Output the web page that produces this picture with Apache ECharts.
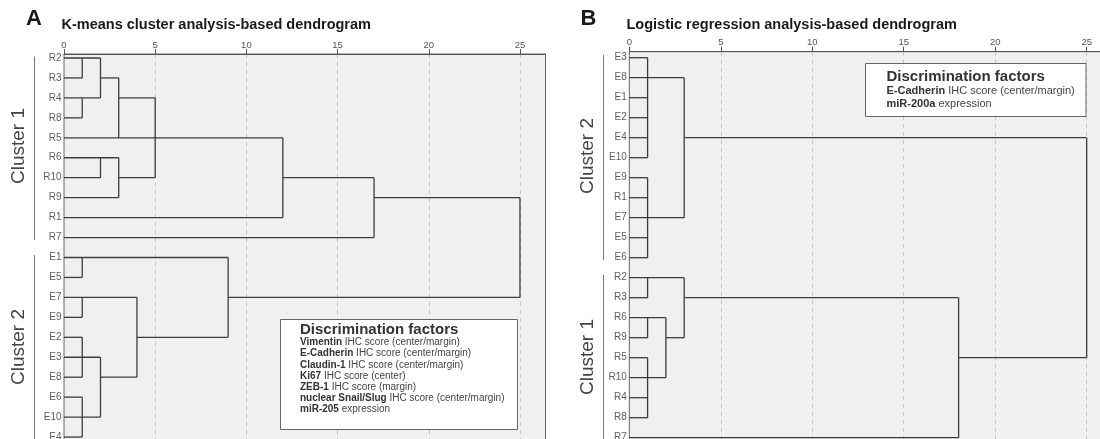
<!DOCTYPE html>
<html>
<head>
<meta charset="utf-8">
<script src="https://cdn.jsdelivr.net/npm/echarts@6/dist/echarts.min.js"></script>
<style>
html,body{margin:0;padding:0;background:#fff;}
#c{width:1100px;height:439px;}
</style>
</head>
<body>
<div id="c"></div>
<script>
// ---------- data ----------
const rowsA = ['R2','R3','R4','R8','R5','R6','R10','R9','R1','R7','E1','E5','E7','E9','E2','E3','E8','E6','E10','E4'];
const rowsB = ['E3','E8','E1','E2','E4','E10','E9','R1','E7','E5','E6','R2','R3','R6','R9','R5','R10','R4','R8','R7'];
// horizontal segments: [row, fromDistance, toDistance]
const horizA = [[0,0,2],[1,0,1],[1,2,3],[2,0,2],[2,3,5],[3,0,1],[4,0,12],[5,0,3],[6,0,2],[6,3,5],[6,12,17],[7,0,3],[7,17,25],[8,0,12],[9,0,17],
  [10,0,9],[11,0,1],[12,0,4],[12,9,25],[13,0,1],[14,0,1],[14,4,9],[15,0,2],[16,0,1],[16,2,4],[17,0,1],[18,0,2],[19,0,1]];
// vertical segments: [distance, fromRow, toRow]
const vertA = [[1,0,1],[1,2,3],[2,0,2],[3,1,4],[2,5,6],[3,5,7],[5,2,6],[12,4,8],[17,6,9],[25,7,12],
  [1,10,11],[1,12,13],[1,14,16],[1,17,19],[2,15,18],[4,12,16],[9,10,14]];
const horizB = [[0,0,1],[1,0,3],[2,0,1],[3,0,1],[4,0,1],[4,3,25],[5,0,1],[6,0,1],[7,0,1],[8,0,3],[9,0,1],[10,0,1],
  [11,0,3],[12,0,1],[12,3,18],[13,0,2],[14,0,1],[14,2,3],[15,0,1],[15,18,25],[16,0,2],[17,0,1],[18,0,1],[19,0,18]];
const vertB = [[1,0,5],[1,6,10],[3,1,8],[25,4,15],[1,11,12],[3,11,14],[1,13,14],[2,13,16],[1,15,18],[18,12,19]];
const factorsA = [['Vimentin',' IHC score (center/margin)'],['E-Cadherin',' IHC score (center/margin)'],['Claudin-1',' IHC score (center/margin)'],
  ['Ki67',' IHC score (center)'],['ZEB-1',' IHC score (margin)'],['nuclear Snail/Slug',' IHC score (center/margin)'],['miR-205',' expression']];
const factorsB = [['E-Cadherin',' IHC score (center/margin)'],['miR-200a',' expression']];
const titleA = 'K-means cluster analysis-based dendrogram';
const titleB = 'Logistic regression analysis-based dendrogram';

// ---------- build ----------
const FONT = "'Liberation Sans', Arial, sans-serif";
function segs(h, v){
  const out = [];
  h.forEach(s => out.push([s[1], s[0], s[2], s[0]]));
  v.forEach(s => out.push([s[0], s[1], s[0], s[2]]));
  return out;
}
function renderSeg(params, api){
  const p1 = api.coord([api.value(0), api.value(1)]);
  const p2 = api.coord([api.value(2), api.value(3)]);
  return {type:'line', shape:{x1:p1[0],y1:p1[1],x2:p2[0],y2:p2[1]}, style:{stroke:'#3c3c3c', lineWidth:1.3}};
}
function xAx(idx){
  return {type:'value', gridIndex:idx, position:'top', min:0, max:26.4, interval:5,
    axisLine:{show:true, onZero:false, lineStyle:{color:'#555', width:1}},
    axisTick:{show:true, length:5, lineStyle:{color:'#555'}},
    axisLabel:{color:'#555', fontSize:9.5, fontFamily:FONT, margin:4, showMaxLabel:false},
    splitLine:{show:true, showMinLine:false, showMaxLine:false, lineStyle:{color:'#c4c4c4', type:[4,4], width:1}}};
}
function yAx(idx, min){
  return {type:'value', gridIndex:idx, inverse:true, min:min, max:20.1,
    axisLine:{show:false}, axisTick:{show:false}, axisLabel:{show:false}, splitLine:{show:false}};
}
function labelSeries(idx, rows){
  return {type:'scatter', xAxisIndex:idx, yAxisIndex:idx, symbolSize:1, itemStyle:{color:'rgba(0,0,0,0)'},
    data: rows.map((n,i)=>[0,i,n]), silent:true, clip:false,
    label:{show:true, position:'left', distance:2, formatter:p=>p.data[2], color:'#333', fontSize:10, fontFamily:FONT}};
}
function legendText(list){
  return list.map(l => '{b|' + l[0] + '}{r|' + l[1] + '}').join('\n');
}
const chart = echarts.init(document.getElementById('c'), null, {renderer:'canvas'});
const option = {
  animation:false,
  backgroundColor:'#fff',
  grid:[
    {left:64, top:54, width:481.5, height:20.3*19.95, show:true, backgroundColor:'#f0f0f0', borderColor:'#666', borderWidth:1, containLabel:false, outerBoundsMode:'none'},
    {left:629.3, top:51.7, width:483, height:20.4*20, show:true, backgroundColor:'#f0f0f0', borderColor:'#666', borderWidth:1, containLabel:false, outerBoundsMode:'none'}
  ],
  xAxis:[xAx(0), xAx(1)],
  yAxis:[yAx(0,-0.2), yAx(1,-0.3)],
  series:[
    {type:'custom', xAxisIndex:0, yAxisIndex:0, renderItem:renderSeg, data:segs(horizA, vertA), encode:{x:[0,2], y:[1,3]}, silent:true},
    {type:'custom', xAxisIndex:1, yAxisIndex:1, renderItem:renderSeg, data:segs(horizB, vertB), encode:{x:[0,2], y:[1,3]}, silent:true},
    labelSeries(0, rowsA),
    labelSeries(1, rowsB)
  ],
  graphic:[
    {type:'text', x:26, y:19, z:100, style:{text:'A', font:'bold 22px '+FONT, fill:'#1a1a1a', verticalAlign:'middle'}},
    {type:'text', x:61.5, y:25, z:100, style:{text:titleA, font:'bold 14.5px '+FONT, fill:'#1a1a1a', verticalAlign:'middle'}},
    {type:'text', x:580.5, y:19, z:100, style:{text:'B', font:'bold 22px '+FONT, fill:'#1a1a1a', verticalAlign:'middle'}},
    {type:'text', x:626.5, y:25, z:100, style:{text:titleB, font:'bold 14.5px '+FONT, fill:'#1a1a1a', verticalAlign:'middle'}},
    // cluster brackets and labels
    {type:'line', z:100, shape:{x1:34.5,y1:56.5,x2:34.5,y2:240}, style:{stroke:'#777', lineWidth:1}},
    {type:'line', z:100, shape:{x1:34.5,y1:255,x2:34.5,y2:460}, style:{stroke:'#777', lineWidth:1}},
    {type:'line', z:100, shape:{x1:603.5,y1:55,x2:603.5,y2:260}, style:{stroke:'#777', lineWidth:1}},
    {type:'line', z:100, shape:{x1:603.5,y1:275,x2:603.5,y2:460}, style:{stroke:'#777', lineWidth:1}},
    {type:'text', x:19, y:146, rotation:Math.PI/2, z:100, style:{text:'Cluster 1', font:'19px '+FONT, fill:'#444', align:'center', verticalAlign:'middle'}},
    {type:'text', x:19, y:347, rotation:Math.PI/2, z:100, style:{text:'Cluster 2', font:'19px '+FONT, fill:'#444', align:'center', verticalAlign:'middle'}},
    {type:'text', x:588, y:156, rotation:Math.PI/2, z:100, style:{text:'Cluster 2', font:'19px '+FONT, fill:'#444', align:'center', verticalAlign:'middle'}},
    {type:'text', x:588, y:357, rotation:Math.PI/2, z:100, style:{text:'Cluster 1', font:'19px '+FONT, fill:'#444', align:'center', verticalAlign:'middle'}},
    // legend A
    {type:'rect', z:100, shape:{x:280.5,y:319.5,width:237,height:110}, style:{fill:'#fff', stroke:'#666', lineWidth:1}},
    {type:'text', x:300, y:329.5, z:101, style:{text:'Discrimination factors', font:'bold 15px '+FONT, fill:'#333', verticalAlign:'middle'}},
    {type:'text', x:300, y:337, z:101, style:{text:legendText(factorsA), verticalAlign:'top', fill:'#333',
      rich:{b:{fontWeight:'bold', fontSize:10, fontFamily:FONT, fill:'#333', lineHeight:11.1}, r:{fontSize:10, fontFamily:FONT, fill:'#444', lineHeight:11.1}}}},
    // legend B
    {type:'rect', z:100, shape:{x:865.5,y:63.5,width:220.5,height:53}, style:{fill:'#fff', stroke:'#666', lineWidth:1}},
    {type:'text', x:886.5, y:76.7, z:101, style:{text:'Discrimination factors', font:'bold 15px '+FONT, fill:'#333', verticalAlign:'middle'}},
    {type:'text', x:886.5, y:84, z:101, style:{text:legendText(factorsB), verticalAlign:'top', fill:'#333',
      rich:{b:{fontWeight:'bold', fontSize:11, fontFamily:FONT, fill:'#333', lineHeight:13.3}, r:{fontSize:11, fontFamily:FONT, fill:'#444', lineHeight:13.3}}}}
  ]
};
chart.setOption(option);
</script>
</body>
</html>
